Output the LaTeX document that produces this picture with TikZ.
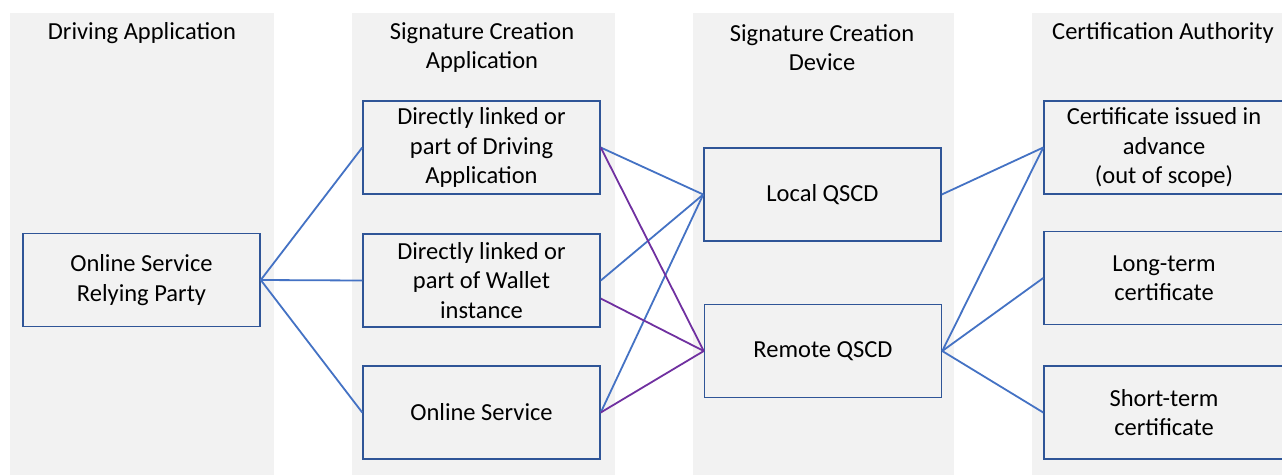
\documentclass[tikz,border=0pt]{standalone}
\usepackage{fontspec}
\setmainfont{Carlito}
\begin{document}
\begin{tikzpicture}[x=1pt,y=-1pt,
  lane/.style={fill=lanegray,draw=none},
  box/.style={draw=boxblue,line width=1.5pt,fill=lanegray,minimum height=93pt,
    align=center,inner sep=0pt,font=\fontsize{24.5}{29.5}\selectfont},
  head/.style={align=center,font=\fontsize{24.5}{29.5}\selectfont},
  blueline/.style={draw=lineblue,line width=1.8pt},
  purpleline/.style={draw=linepurple,line width=1.8pt}]
\definecolor{lanegray}{HTML}{F2F2F2}
\definecolor{boxblue}{HTML}{2F5597}
\definecolor{lineblue}{HTML}{4472C4}
\definecolor{linepurple}{HTML}{7030A0}
\useasboundingbox (0,0) rectangle (1282,475);
\fill[white] (0,0) rectangle (1282,475);
% swim lanes
\fill[lane] (10,13) rectangle (274,475);
\fill[lane] (352,13) rectangle (615,475);
\fill[lane] (693,13) rectangle (954,475);
\fill[lane] (1032,13) rectangle (1282,475);
% lane headings
\node[head] (h1) at (142,33) {Driving Application};
\node[head] (h2) at (482,47.5) {Signature Creation\\Application};
\node[head] (h3) at (822,47.5) {Signature Creation\\Device};
\node[head] (h4) at (1163,33) {Certification Authority};
% boxes
\node[box,minimum width=237pt] (rp) at (141.5,280) {Online Service\\Relying Party};
\node[box,minimum width=237pt] (sa1) at (481.5,147.5) {Directly linked or\\part of Driving\\Application};
\node[box,minimum width=237pt] (sa2) at (481.5,280.5) {Directly linked or\\part of Wallet\\instance};
\node[box,minimum width=237pt] (sa3) at (481.5,412.5) {Online Service};
\node[box,minimum width=237pt] (lq) at (822.5,194.5) {Local QSCD};
\node[box,minimum width=237pt] (rq) at (823,351) {Remote QSCD};
\node[box,minimum width=240pt] (c1) at (1164,147.5) {Certificate issued in\\advance\\(out of scope)};
\node[box,minimum width=240pt] (c2) at (1164,278) {Long-term\\certificate};
\node[box,minimum width=240pt] (c3) at (1164,412.5) {Short-term\\certificate};
% driving application to signature creation applications
\draw[blueline] (rp.east) -- (sa1.west);
\draw[blueline] (rp.east) -- (sa2.west);
\draw[blueline] (rp.east) -- (sa3.west);
% signature creation applications to devices
\draw[blueline] (sa1.east) -- (lq.west);
\draw[blueline] (sa2.east) -- (lq.west);
\draw[blueline] (sa3.east) -- (lq.west);
\draw[purpleline] (sa1.east) -- (rq.west);
\draw[purpleline] ([yshift=-18pt]sa2.east) -- (rq.west);
\draw[purpleline] (sa3.east) -- (rq.west);
% devices to certificates
\draw[blueline] (lq.east) -- (c1.west);
\draw[blueline] (rq.east) -- (c1.west);
\draw[blueline] (rq.east) -- (c2.west);
\draw[blueline] (rq.east) -- (c3.west);
\end{tikzpicture}
\end{document}
